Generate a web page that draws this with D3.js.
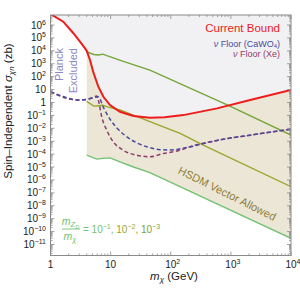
<!DOCTYPE html>
<html><head><meta charset="utf-8">
<script src="https://cdn.jsdelivr.net/npm/d3@7"></script>
<style>body{margin:0;background:#fff}svg{display:block;font-family:"Liberation Sans",Arial,sans-serif}</style>
</head><body><svg id="c" width="300" height="293"></svg>
<script>
// [mass (GeV), sigma (zb)]
const currentBound = [[1,7.1e6],[1.63,1.8e6],[2.4,2.3e5],[3.09,5.1e4],[3.75,1.55e4],[4.0,1.0e4],[4.54,1.95e3],[5.13,240],[6.24,16.6],[7.59,2.75],[9.77,0.63],[14.3,0.19],[24,0.089],[45,0.066],[79,0.071],[162,0.105],[589,0.35],[2090,1.55],[10000,9.1]];
const ratio1e3 = [[4.0,8500],[5.25,5200],[6.3,4800],[7.4,5500],[8.9,4000],[15.8,1600],[45,320],[870,0.66],[10000,0.003]];
const ratio1e2 = [[4.0,1.2],[5.25,0.52],[6.3,0.56],[7.4,0.6],[8.9,0.45],[14.3,0.26],[24,0.105],[45,0.033],[143,0.004],[347,5e-4],[10000,3e-7]];
const ratio1e1 = [[4.0,8.3e-5],[5.9,4.1e-5],[7.4,4.7e-5],[9.8,5.1e-5],[14.3,2.5e-5],[23.4,1.05e-5],[45,3.7e-6],[10000,3e-11]];
const floorCaWO4 = [[1,6.8],[1.66,2.75],[2.75,1.55],[4.0,1.74],[5.5,2.5],[6.24,2.75],[7.6,0.4],[9.8,0.05],[12.6,0.011],[18.6,2.2e-3],[28,7e-4],[40,3.7e-4],[66,2.2e-4],[100,2.1e-4],[200,3.5e-4],[589,1.15e-3],[2090,2.95e-3],[10000,8.5e-3]];
const floorXe = [[1,6.8],[1.86,2.1],[3.1,1.55],[4.5,2.0],[5.9,3.2],[6.3,1.3],[7.1,0.08],[8.6,7.2e-3],[11.1,8.9e-4],[16.2,2.0e-4],[27,8.3e-5],[45,6.3e-5],[75,1.1e-4],[143,2.0e-4],[200,3.5e-4],[589,1.15e-3],[2090,2.95e-3],[10000,8.5e-3]];
const xTickValues = [1,10,100,1000,10000];
const xTickLabels = [["1",""],["10",""],["10","2"],["10","3"],["10","4"]];
const yTickExps = [6,5,4,3,2,1,0,-1,-2,-3,-4,-5,-6,-7,-8,-9,-10,-11];

const C = {gray:"#f1f1f3", beige:"#ebe6d6", red:"#ee1c1c", g1:"#72c272", g2:"#9aa52e", g3:"#74a63a",
  blue:"#4a4a9c", purple:"#8e3c6c", frame:"#8a8a8a", planck:"#8c86c6", hsdm:"#8f7f3a"};

const svg = d3.select("#c");
const L=50.5, R=291, T=15, B=255.5;
const x = d3.scaleLog().domain([1,1e4]).range([L,R]);
const y = d3.scaleLog().domain([1e-11,1e6]).range([244.5,25]);

svg.append("defs").append("clipPath").attr("id","clip").append("rect")
  .attr("x",L).attr("y",T).attr("width",R-L).attr("height",B-T);
const g = svg.append("g").attr("clip-path","url(#clip)");

const line = d3.line().x(d=>x(d[0])).y(d=>y(d[1]));
// excluded region
g.append("path").datum(currentBound)
  .attr("d", d3.area().x(d=>x(d[0])).y0(d=>y(d[1])).y1(T-5))
  .attr("fill",C.gray);
// allowed region
const boundTop = currentBound.filter(d=>d[0]>=4);
const poly = boundTop.concat(ratio1e1.slice().reverse());
g.append("path").attr("d", line(poly)+"Z").attr("fill",C.beige);

// green lines
[[ratio1e1,C.g1],[ratio1e2,C.g2],[ratio1e3,C.g3]].forEach(([d,c])=>{
  g.append("path").datum(d).attr("d",line).attr("fill","none").attr("stroke",c).attr("stroke-width",1.4);
});
// neutrino floors
const smooth = d3.line().x(d=>x(d[0])).y(d=>y(d[1])).curve(d3.curveMonotoneX);
[[floorXe,C.purple],[floorCaWO4,C.blue]].forEach(([d,c])=>{
  g.append("path").datum(d).attr("d",smooth).attr("fill","none")
   .attr("stroke",c).attr("stroke-width",1.5).attr("stroke-dasharray","4,2.6");
});
g.append("path").datum(currentBound).attr("d",line).attr("fill","none").attr("stroke",C.red).attr("stroke-width",2);

// frame
svg.append("rect").attr("x",L).attr("y",T).attr("width",R-L).attr("height",B-T)
  .attr("fill","none").attr("stroke",C.frame).attr("stroke-width",1);
const tk = svg.append("g").attr("stroke",C.frame).attr("stroke-width",0.8);
for(let e=0;e<=4;e++){
  for(let m=1;m<10;m++){
    const v=m*Math.pow(10,e); if(v>1e4) break;
    const px=x(v), len = m===1?4:2;
    tk.append("line").attr("x1",px).attr("x2",px).attr("y1",B).attr("y2",B-len);
    tk.append("line").attr("x1",px).attr("x2",px).attr("y1",T).attr("y2",T+len);
  }
}
for(let e=-12;e<=6;e++){
  for(let m=1;m<10;m++){
    const v=m*Math.pow(10,e); const py=y(v);
    if(py<T||py>B) continue;
    const len = m===1?4:2;
    tk.append("line").attr("y1",py).attr("y2",py).attr("x1",L).attr("x2",L+len);
    tk.append("line").attr("y1",py).attr("y2",py).attr("x1",R).attr("x2",R-len);
  }
}
// x tick labels
xTickValues.forEach((v,i)=>{
  const t = svg.append("text").attr("x",x(v)+(xTickLabels[i][1]?2:0)).attr("y",268).attr("text-anchor","middle")
    .attr("font-size",10).attr("fill","#222");
  t.append("tspan").text(xTickLabels[i][0]);
  if(xTickLabels[i][1]) t.append("tspan").attr("dy",-4).attr("font-size",7).text(xTickLabels[i][1]);
});
// y tick labels
yTickExps.forEach(e=>{
  const t = svg.append("text").attr("x",46).attr("y",y(Math.pow(10,e))+3.5).attr("text-anchor","end")
    .attr("font-size",10).attr("fill","#222");
  if(e===1){t.text("10");}
  else if(e===0){t.text("1");}
  else { t.append("tspan").text("10"); t.append("tspan").attr("dy",-4).attr("font-size",7).text(e<0?"\u2212"+(-e):e); }
});
// axis titles
const yl = svg.append("text").attr("transform","translate(12,111) rotate(-90)").attr("text-anchor","middle")
  .attr("font-size",11.5).attr("fill","#222");
yl.append("tspan").text("Spin\u2013Independent ");
yl.append("tspan").attr("font-style","italic").text("\u03c3");
yl.append("tspan").attr("font-style","italic").attr("font-size",8).attr("dy",2).text("\u03c7n");
yl.append("tspan").attr("dy",-2).text(" (zb)");
const xl = svg.append("text").attr("x",174).attr("y",280).attr("text-anchor","middle").attr("font-size",11.5).attr("fill","#222");
xl.append("tspan").attr("font-style","italic").text("m");
xl.append("tspan").attr("font-style","italic").attr("font-size",8).attr("dy",2).text("\u03c7");
xl.append("tspan").attr("dy",-2).text(" (GeV)");

// annotations
svg.append("text").attr("x",280).attr("y",32).attr("text-anchor","end").attr("font-size",11.5).attr("fill",C.red).text("Current Bound");
const n1 = svg.append("text").attr("x",280).attr("y",46.5).attr("text-anchor","end").attr("font-size",9).attr("fill",C.blue);
n1.append("tspan").attr("font-style","italic").text("\u03bd");
n1.append("tspan").text(" Floor (CaWO");
n1.append("tspan").attr("font-size",6).attr("dy",1.5).text("4");
n1.append("tspan").attr("dy",-1.5).text(")");
const n2 = svg.append("text").attr("x",280).attr("y",56.5).attr("text-anchor","end").attr("font-size",9).attr("fill",C.purple);
n2.append("tspan").attr("font-style","italic").text("\u03bd");
n2.append("tspan").text(" Floor (Xe)");

svg.append("text").attr("transform","translate(63,48) rotate(-90)").attr("text-anchor","end").attr("font-size",11).attr("fill",C.planck).text("Planck");
svg.append("text").attr("transform","translate(76.5,48) rotate(-90)").attr("text-anchor","end").attr("font-size",11).attr("fill",C.planck).text("Excluded");

svg.append("text").attr("transform","translate(225.5,197) rotate(26.5)").attr("text-anchor","middle").attr("font-size",11)
  .attr("fill",C.hsdm).text("HSDM Vector Allowed");

// legend fraction
const fr = svg.append("g");
const num = fr.append("text").attr("x",70.5).attr("y",225).attr("text-anchor","middle").attr("font-size",10.5).attr("fill",C.g1);
num.append("tspan").attr("font-style","italic").text("m");
num.append("tspan").attr("font-style","italic").attr("font-size",7.5).attr("dy",2).text("Z");
num.append("tspan").attr("font-style","italic").attr("font-size",5.5).attr("dy",1.5).text("D");
fr.append("line").attr("x1",62).attr("x2",80).attr("y1",229).attr("y2",229).attr("stroke",C.g1).attr("stroke-width",0.9);
const den = fr.append("text").attr("x",70).attr("y",240).attr("text-anchor","middle").attr("font-size",10.5).attr("fill",C.g1);
den.append("tspan").attr("font-style","italic").text("m");
den.append("tspan").attr("font-style","italic").attr("font-size",7.5).attr("dy",2).text("\u03c7");
const eq = svg.append("text").attr("x",83).attr("y",233).attr("font-size",10).attr("fill",C.g1);
eq.append("tspan").text("= 10");
eq.append("tspan").attr("font-size",7).attr("dy",-4).text("\u22121");
eq.append("tspan").attr("dy",4).text(", ");
eq.append("tspan").attr("fill",C.g2).text("10");
eq.append("tspan").attr("fill",C.g2).attr("font-size",7).attr("dy",-4).text("\u22122");
eq.append("tspan").attr("dy",4).attr("fill",C.g2).text(", ");
eq.append("tspan").attr("fill",C.g3).text("10");
eq.append("tspan").attr("fill",C.g3).attr("font-size",7).attr("dy",-4).text("\u22123");
</script></body></html>
